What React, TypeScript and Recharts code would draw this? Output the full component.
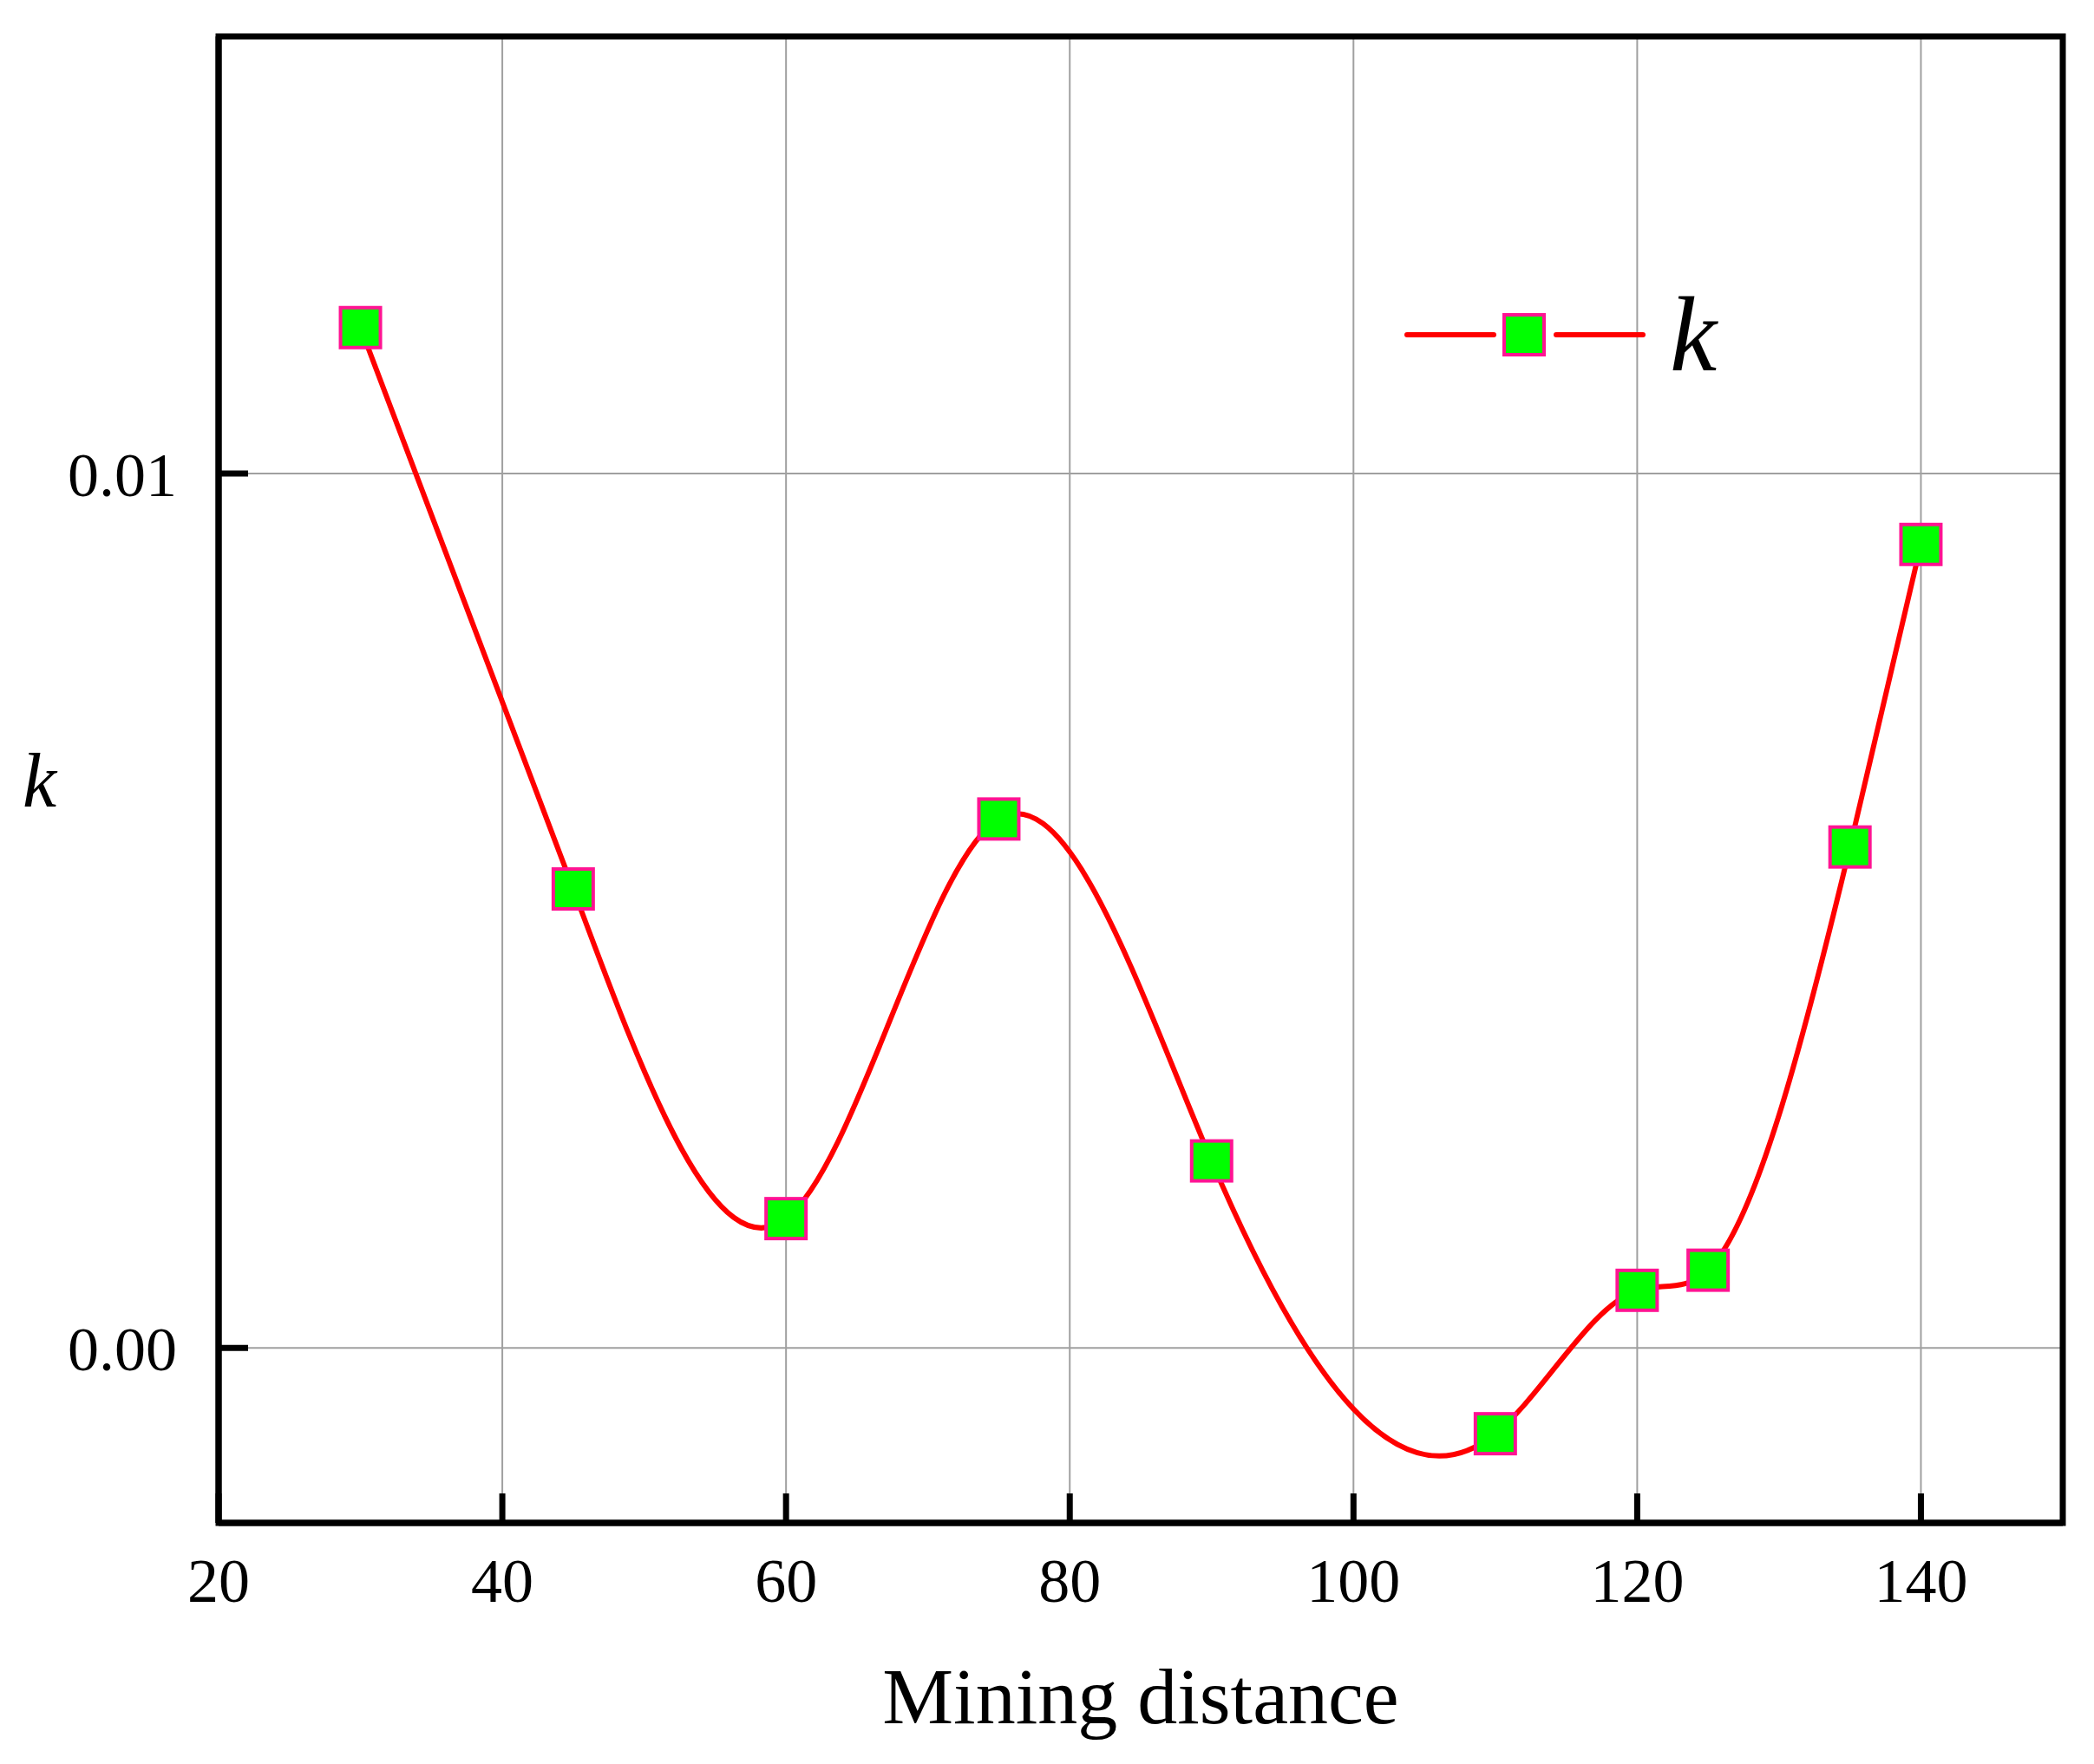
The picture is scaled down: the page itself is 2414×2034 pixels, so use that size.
import React from 'react';
import {
    LineChart, Line, XAxis, YAxis, CartesianGrid, Legend, Label, ReferenceArea
} from 'recharts';

// values
const distance = [30, 45, 60, 75, 90, 110, 120, 125, 135, 140];
const kValues = [0.01167, 0.00525, 0.00148, 0.00605, 0.00214, -0.00098, 0.00066, 0.00089, 0.00573, 0.00919];
const xTicks = [20, 40, 60, 80, 100, 120, 140];
const yTicks = [0, 0.01];

const data = distance.map((d, i) => ({ distance: d, k: kValues[i] }));

const FONT = "'Liberation Serif', 'Times New Roman', serif";
const RED = '#ff0000';
const GREEN = '#00ff00';
const PINK = '#ff1493';
const MARK = 46;

// natural cubic spline in x (like Origin's spline connector), used as a d3-style curve
const splineX = (context: any) => {
    let xs: number[] = [];
    let ys: number[] = [];
    return {
        areaStart() {},
        areaEnd() {},
        lineStart() { xs = []; ys = []; },
        point(x: number, y: number) { xs.push(+x); ys.push(+y); },
        lineEnd() {
            const n = xs.length;
            if (n === 0) return;
            context.moveTo(xs[0], ys[0]);
            if (n < 3) {
                for (let i = 1; i < n; i++) context.lineTo(xs[i], ys[i]);
                return;
            }
            const h: number[] = [];
            for (let i = 0; i < n - 1; i++) h.push(xs[i + 1] - xs[i]);
            // tridiagonal solve for second derivatives, M0 = Mn-1 = 0
            const m = n - 2;
            const a: number[] = [], b: number[] = [], c: number[] = [], d: number[] = [];
            for (let i = 1; i <= m; i++) {
                a.push(h[i - 1]);
                b.push(2 * (h[i - 1] + h[i]));
                c.push(h[i]);
                d.push(6 * ((ys[i + 1] - ys[i]) / h[i] - (ys[i] - ys[i - 1]) / h[i - 1]));
            }
            for (let i = 1; i < m; i++) {
                const w = a[i] / b[i - 1];
                b[i] -= w * c[i - 1];
                d[i] -= w * d[i - 1];
            }
            const M = new Array(n).fill(0);
            for (let i = m - 1; i >= 0; i--) {
                M[i + 1] = (d[i] - (i < m - 1 ? c[i] * M[i + 2] : 0)) / b[i];
            }
            for (let i = 0; i < n - 1; i++) {
                const hi = h[i];
                const s = (ys[i + 1] - ys[i]) / hi;
                const d0 = s - hi * (2 * M[i] + M[i + 1]) / 6;
                const d1 = s + hi * (M[i] + 2 * M[i + 1]) / 6;
                context.bezierCurveTo(
                    xs[i] + hi / 3, ys[i] + d0 * hi / 3,
                    xs[i + 1] - hi / 3, ys[i + 1] - d1 * hi / 3,
                    xs[i + 1], ys[i + 1]
                );
            }
        },
    };
};

const SquareDot = (props: any) => {
    const { cx, cy, index } = props;
    if (cx == null || cy == null) return null;
    return (
        <rect
            key={`dot-${index}`}
            x={cx - MARK / 2}
            y={cy - MARK / 2}
            width={MARK}
            height={MARK}
            fill={GREEN}
            stroke={PINK}
            strokeWidth={4}
        />
    );
};

// legend box: red line broken by a square marker, then italic k
const LegendBox = () => (
    <svg width={480} height={160} style={{ overflow: 'visible' }}>
        <line x1={22} y1={66} x2={122} y2={66} stroke={RED} strokeWidth={6} strokeLinecap="round" />
        <line x1={194} y1={66} x2={294} y2={66} stroke={RED} strokeWidth={6} strokeLinecap="round" />
        <rect x={157 - 23} y={66 - 23} width={46} height={46} fill={GREEN} stroke={PINK} strokeWidth={4} />
        <text x={325} y={107} fontSize={122} fontStyle="italic" fontFamily={FONT} fill="#000">k</text>
    </svg>
);

export default function App() {
    return (
        <div style={{ position: 'absolute', left: 0, top: 0, background: '#fff' }}>
            <LineChart
                width={2414}
                height={2034}
                data={data}
                margin={{ top: 42, right: 36, bottom: 0, left: 0 }}
            >
                <CartesianGrid stroke="#a0a0a0" strokeWidth={2} />
                <XAxis
                    dataKey="distance"
                    type="number"
                    domain={[20, 150]}
                    ticks={xTicks}
                    allowDataOverflow
                    height={278}
                    axisLine={{ stroke: '#000', strokeWidth: 7 }}
                    tickLine={{ stroke: '#000', strokeWidth: 7 }}
                    tickSize={-34}
                    tickMargin={74}
                    tick={{ fill: '#000', fontSize: 72, fontFamily: FONT }}
                >
                    <Label
                        value="Mining distance"
                        position="insideBottom"
                        offset={47}
                        style={{ fill: '#000', fontSize: 92, fontFamily: FONT }}
                    />
                </XAxis>
                <YAxis
                    type="number"
                    domain={[-0.002, 0.015]}
                    ticks={yTicks}
                    allowDataOverflow
                    width={252}
                    axisLine={{ stroke: '#000', strokeWidth: 7 }}
                    tickLine={{ stroke: '#000', strokeWidth: 7 }}
                    tickSize={-34}
                    tickMargin={82}
                    tickFormatter={(v: number) => v.toFixed(2)}
                    tick={{ fill: '#000', fontSize: 72, fontFamily: FONT }}
                >
                    <Label
                        value="k"
                        position="insideLeft"
                        offset={26}
                        style={{ fill: '#000', fontSize: 88, fontStyle: 'italic', fontFamily: FONT }}
                    />
                </YAxis>
                <ReferenceArea
                    x1={20}
                    x2={150}
                    y1={-0.002}
                    y2={0.015}
                    fill="none"
                    stroke="#000"
                    strokeWidth={7}
                    ifOverflow="visible"
                />
                <Legend
                    layout="horizontal"
                    align="center"
                    verticalAlign="middle"
                    content={() => <LegendBox />}
                    wrapperStyle={{ left: 1600, top: 320, width: 480, height: 160 }}
                />
                <Line
                    type={splineX as any}
                    dataKey="k"
                    stroke={RED}
                    strokeWidth={6}
                    dot={SquareDot}
                    activeDot={false}
                    isAnimationActive={false}
                />
            </LineChart>
        </div>
    );
}
